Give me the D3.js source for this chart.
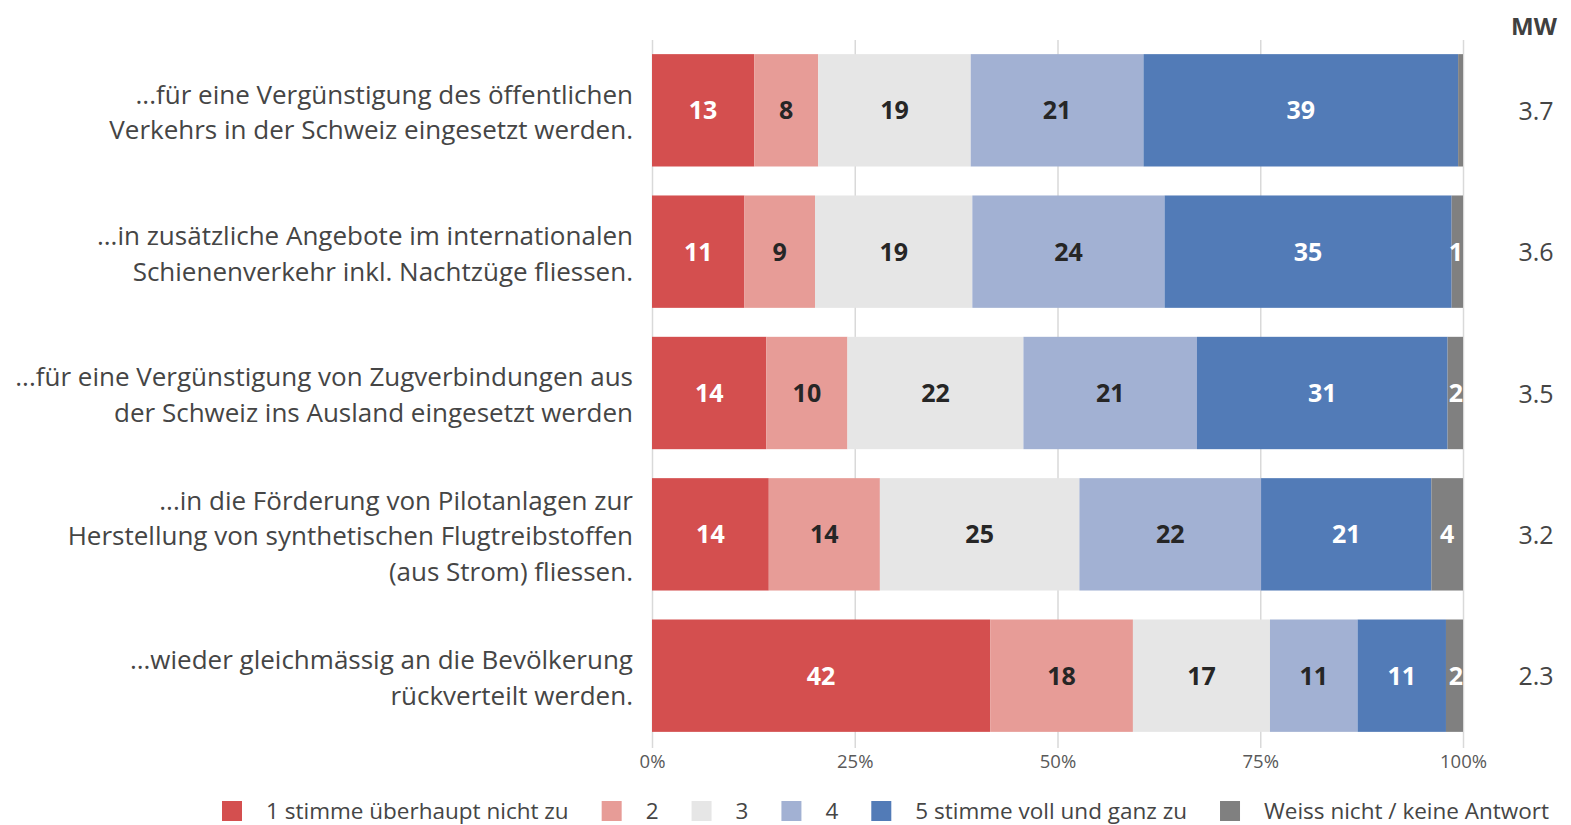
<!DOCTYPE html>
<html>
<head>
<meta charset="utf-8">
<script src="https://cdn.jsdelivr.net/npm/d3@7"></script>
<style>
  body { margin: 0; background: #fff; }
  svg { display: block; font-family: "Open Sans", "Noto Sans", sans-serif; }
</style>
</head>
<body>
<svg width="1571" height="825"></svg>
<script>
const categories = [
    ["...für eine Vergünstigung des öffentlichen", "Verkehrs in der Schweiz eingesetzt werden."],
    ["...in zusätzliche Angebote im internationalen", "Schienenverkehr inkl. Nachtzüge fliessen."],
    ["...für eine Vergünstigung von Zugverbindungen aus", "der Schweiz ins Ausland eingesetzt werden"],
    ["...in die Förderung von Pilotanlagen zur", "Herstellung von synthetischen Flugtreibstoffen", "(aus Strom) fliessen."],
    ["...wieder gleichmässig an die Bevölkerung", "rückverteilt werden."]
];

const seriesNames = ["1 stimme überhaupt nicht zu", "2", "3", "4", "5 stimme voll und ganz zu", "Weiss nicht / keine Antwort"];
const seriesColors = ["#d44f4f", "#e79c97", "#e6e6e6", "#a2b1d3", "#527bb7", "#808080"];
const labelColors = ["#fff", "#262626", "#262626", "#262626", "#fff", "#fff"];

// values per category, in series order
const values = [
    [12.6, 7.9, 18.8, 21.3, 38.8, 0.6],
    [11.4, 8.7, 19.4, 23.7, 35.4, 1.4],
    [14.1, 10.0, 21.7, 21.4, 30.9, 1.9],
    [14.4, 13.7, 24.6, 22.4, 21.0, 3.9],
    [41.7, 17.6, 16.9, 10.8, 10.9, 2.1]
];

const meanValues = ["3.7", "3.6", "3.5", "3.2", "2.3"];
const tickValues = [0, 25, 50, 75, 100];

const svg = d3.select("svg");
const area = { left: 652, right: 1463, top: 40, bottom: 746 };

const scaleX = d3.scaleLinear().domain([0, 100]).range([area.left, area.right]);
const scaleY = d3.scaleBand()
    .domain(d3.range(categories.length))
    .range([area.top, area.bottom])
    .paddingInner(0.205)
    .paddingOuter(0.1);

// gridlines + ticks
const axis = d3.axisBottom(scaleX)
    .tickValues(tickValues)
    .tickFormat((d) => d + "%")
    .tickSize(area.bottom - area.top + 2)
    .tickPadding(7);

const gAxis = svg.append("g")
    .attr("transform", `translate(0, ${area.top})`)
    .call(axis);
gAxis.select(".domain").remove();
gAxis.selectAll(".tick line").attr("stroke", "#d9d9d9").attr("stroke-width", 1.5);
gAxis.selectAll(".tick text")
    .attr("fill", "#595959")
    .style("font-size", "18.5px")
    .style("font-family", "'Open Sans', sans-serif");

// stacked bars
const rows = svg.append("g")
    .selectAll("g")
    .data(values)
    .join("g")
    .attr("transform", (d, i) => `translate(0, ${scaleY(i)})`);

rows.each(function (row) {
    const g = d3.select(this);
    let acc = 0;
    const segs = row.map((v, j) => {
        const s = { j, x0: acc, x1: acc + v, v };
        acc += v;
        return s;
    });
    g.selectAll("rect")
        .data(segs)
        .join("rect")
        .attr("x", (d) => scaleX(d.x0))
        .attr("width", (d) => scaleX(d.x1) - scaleX(d.x0))
        .attr("y", 0)
        .attr("height", scaleY.bandwidth())
        .attr("fill", (d) => seriesColors[d.j]);
    g.selectAll("text")
        .data(segs.filter((d) => d.v >= 1))
        .join("text")
        .attr("x", (d) => {
            const w = scaleX(d.x1) - scaleX(d.x0);
            return w < 18 ? scaleX(d.x1) : (scaleX(d.x0) + scaleX(d.x1)) / 2;
        })
        .attr("text-anchor", (d) => (scaleX(d.x1) - scaleX(d.x0) < 18 ? "end" : "middle"))
        .attr("y", scaleY.bandwidth() / 2)
        .attr("dy", "0.36em")
        .attr("fill", (d) => labelColors[d.j])
        .style("font-size", "25px")
        .style("font-weight", "bold")
        .text((d) => Math.round(d.v));
});

// category labels
const lineH = 35.5;
svg.append("g")
    .selectAll("text")
    .data(categories)
    .join("text")
    .attr("text-anchor", "end")
    .attr("fill", "#454545")
    .style("font-size", "26px")
    .attr("transform", (d, i) => {
        const cy = scaleY(i) + scaleY.bandwidth() / 2 + 2;
        return `translate(633, ${cy - (d.length - 1) * lineH / 2})`;
    })
    .each(function (lines) {
        d3.select(this).selectAll("tspan")
            .data(lines)
            .join("tspan")
            .attr("x", 0)
            .attr("y", (d, k) => k * lineH)
            .attr("dy", "0.35em")
            .text((d) => d);
    });

// MW column
svg.append("text")
    .attr("x", 1534)
    .attr("y", 27)
    .attr("dy", "0.35em")
    .attr("text-anchor", "middle")
    .attr("fill", "#404040")
    .style("font-size", "24px")
    .style("font-weight", "bold")
    .text("MW");

svg.append("g")
    .selectAll("text")
    .data(meanValues)
    .join("text")
    .attr("x", 1536)
    .attr("y", (d, i) => scaleY(i) + scaleY.bandwidth() / 2 + 1)
    .attr("dy", "0.35em")
    .attr("text-anchor", "middle")
    .attr("fill", "#454545")
    .style("font-size", "25px")
    .text((d) => d);

// legend
const legend = svg.append("g").attr("transform", "translate(222, 811)");
let lx = 0;
seriesNames.forEach((name, i) => {
    const item = legend.append("g").attr("transform", `translate(${lx}, 0)`);
    item.append("rect")
        .attr("x", 0)
        .attr("y", -10)
        .attr("width", 20)
        .attr("height", 20)
        .attr("fill", seriesColors[i]);
    const t = item.append("text")
        .attr("x", 44)
        .attr("y", 0)
        .attr("dy", "0.35em")
        .attr("fill", "#454545")
        .style("font-size", "22.5px")
        .text(name);
    lx += 44 + t.node().getComputedTextLength() + 33;
});
</script>
</body>
</html>
